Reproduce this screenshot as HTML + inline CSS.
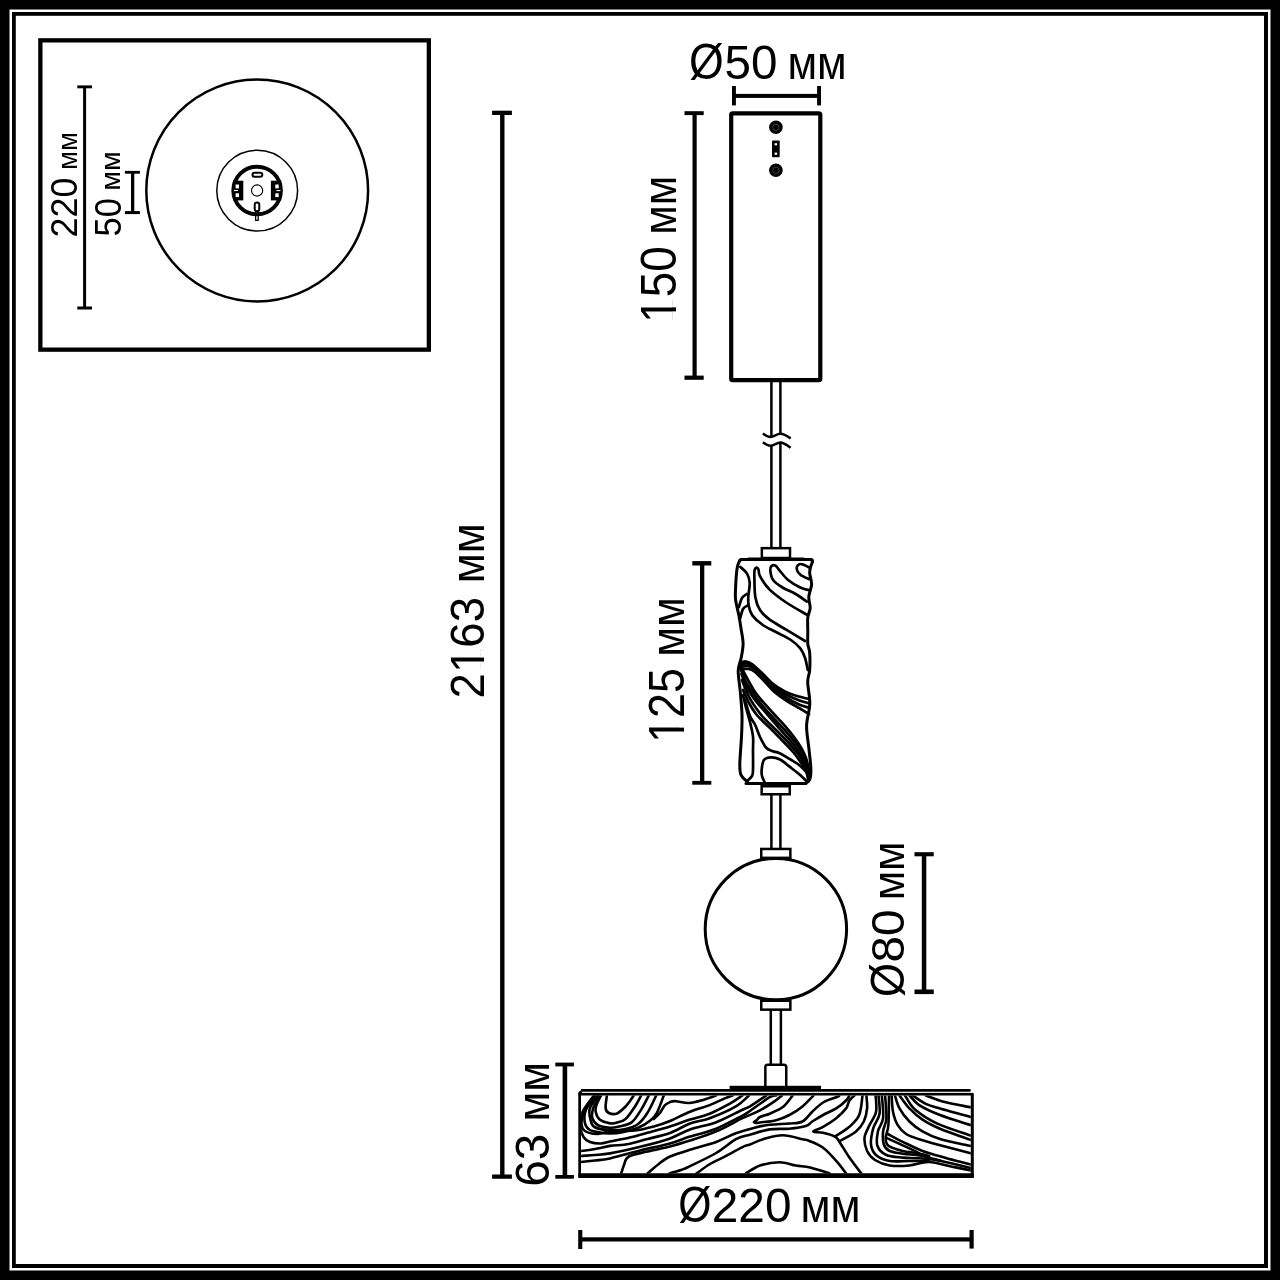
<!DOCTYPE html>
<html><head><meta charset="utf-8"><title>Drawing</title>
<style>
html,body{margin:0;padding:0;background:#fff;}
body{width:1280px;height:1280px;overflow:hidden;}
svg{display:block;}
text{font-family:"Liberation Sans",sans-serif;fill:#000;stroke:#fff;stroke-width:0.7px;paint-order:fill;}
</style></head><body>
<svg width="1280" height="1280" viewBox="0 0 1280 1280">
<rect x="0" y="0" width="1280" height="1280" fill="#fff"/>
<!-- frame -->
<rect x="0" y="0" width="1280" height="1280" fill="#000"/>
<rect x="9.5" y="9.5" width="1261" height="1261" fill="#fff"/>
<rect x="12" y="12" width="1256" height="1256" fill="#000"/>
<rect x="15.8" y="15.8" width="1248.2" height="1248.2" fill="#fff"/>
<!-- inset -->
<rect x="40.35" y="40.35" width="388.5" height="309.3" fill="none" stroke="#000" stroke-width="4.3"/>
<circle cx="257.2" cy="190.5" r="110.9" fill="none" stroke="#000" stroke-width="2.5"/>
<circle cx="257.2" cy="190.6" r="40.4" fill="none" stroke="#000" stroke-width="1.5"/>
<g id="socket">
<circle cx="257.1" cy="190.5" r="23.8" fill="none" stroke="#000" stroke-width="3.9"/>
<circle cx="257.1" cy="190.5" r="5.6" fill="none" stroke="#000" stroke-width="1.1"/>
<rect x="252.5" y="172.7" width="9.8" height="4.1" rx="2" fill="none" stroke="#000" stroke-width="2"/>
<rect x="254.7" y="202.5" width="4.6" height="8.8" rx="2.3" fill="none" stroke="#000" stroke-width="2"/>
<rect x="255.6" y="211.3" width="2.6" height="9" fill="none" stroke="#000" stroke-width="1.3"/>
<rect x="233" y="180.7" width="10.3" height="19.7" fill="#000"/>
<rect x="235.6" y="184.5" width="3.4" height="3.9" fill="#fff"/>
<rect x="235.6" y="193.3" width="3.4" height="3.8" fill="#fff"/>
<rect x="233.8" y="190.0" width="4" height="1.1" fill="#fff"/>
<rect x="270.9" y="180.7" width="10.3" height="19.7" fill="#000"/>
<rect x="275.3" y="184.5" width="3.4" height="3.9" fill="#fff"/>
<rect x="275.3" y="193.3" width="3.4" height="3.8" fill="#fff"/>
<rect x="276.4" y="190.0" width="4" height="1.1" fill="#fff"/>
</g>
<!-- inset dims -->
<g fill="#000">
<rect x="83.1" y="86.8" width="3" height="221.2"/>
<rect x="77.3" y="85.4" width="14.7" height="2.9"/>
<rect x="77.3" y="306.5" width="14.7" height="3"/>
<rect x="131" y="172.3" width="3.3" height="40.2"/>
<rect x="124.9" y="170.9" width="15" height="2.8"/>
<rect x="124.9" y="211.1" width="15" height="3"/>
</g>
<!-- main dims -->
<g fill="#000">
<!-- 2163 -->
<rect x="500.1" y="112.9" width="4.4" height="1063.7"/>
<rect x="492.1" y="110.7" width="19.8" height="4.3"/>
<rect x="492.1" y="1174.5" width="19.8" height="4.25"/>
<!-- 150 -->
<rect x="692.5" y="113.1" width="4.2" height="264.6"/>
<rect x="684.5" y="111.2" width="19.2" height="3.9"/>
<rect x="684.5" y="375.6" width="19.2" height="4.2"/>
<!-- 125 -->
<rect x="700.0" y="563.3" width="4.3" height="219.5"/>
<rect x="692.3" y="561.1" width="19.0" height="4.4"/>
<rect x="692.3" y="780.9" width="19.0" height="3.8"/>
<!-- 80 -->
<rect x="921.8" y="854.2" width="4.5" height="137.6"/>
<rect x="914.5" y="852.2" width="19.25" height="4.1"/>
<rect x="914.5" y="989.5" width="19.25" height="4.6"/>
<!-- 63 -->
<rect x="562.6" y="1064.5" width="4.6" height="112.4"/>
<rect x="555.3" y="1062.6" width="18.6" height="3.8"/>
<rect x="555.3" y="1175.0" width="18.6" height="3.7"/>
<!-- Ø50 -->
<rect x="734" y="93.9" width="85" height="4.0"/>
<rect x="732" y="86" width="3.9" height="19.4"/>
<rect x="817.1" y="86" width="3.9" height="19.4"/>
<!-- Ø220 -->
<rect x="580.25" y="1237.3" width="391.3" height="4.2"/>
<rect x="578.2" y="1230" width="4.1" height="19"/>
<rect x="969.5" y="1230" width="4.2" height="18.6"/>
</g>
<!-- canopy -->
<rect x="731.2" y="113.3" width="89.1" height="266.9" rx="1.5" fill="none" stroke="#000" stroke-width="4.2"/>
<circle cx="775.9" cy="127.3" r="6.8" fill="#000"/>
<circle cx="775.9" cy="127.3" r="3.2" fill="none" stroke="#555" stroke-width="0.7"/>
<rect x="772" y="140.6" width="7.7" height="16.7" rx="1" fill="#000"/>
<rect x="774.6" y="143.2" width="2.5" height="2.1" fill="#fff"/>
<rect x="774.6" y="152.6" width="2.5" height="2.2" fill="#fff"/>
<circle cx="775.9" cy="170.2" r="6.8" fill="#000"/>
<circle cx="775.9" cy="170.2" r="3.2" fill="none" stroke="#555" stroke-width="0.7"/>
<!-- rod -->
<g stroke="#000" stroke-width="2.5" fill="none">
<line x1="771.4" y1="382" x2="771.4" y2="436"/>
<line x1="780.4" y1="382" x2="780.4" y2="434"/>
<line x1="771.4" y1="445" x2="771.4" y2="547"/>
<line x1="780.4" y1="443" x2="780.4" y2="547"/>
<path d="M762.9,433.4 C766,435.6 768,437 770.5,436.9 C774,436.6 777,433.8 780.2,433.75 C784,433.7 787.5,436.2 790.6,438.4"/>
<path d="M762.9,442.3 C766,444.5 768,445.9 770.5,445.8 C774,445.5 777,442.5 780.2,442.4 C784,442.4 787.5,445.4 790.6,447.8"/>
<line x1="771.4" y1="794" x2="771.4" y2="848"/>
<line x1="780.4" y1="794" x2="780.4" y2="848"/>
<line x1="770.8" y1="1010" x2="770.8" y2="1064"/>
<line x1="780.9" y1="1010" x2="780.9" y2="1064"/>
<rect x="761.85" y="548.15" width="28.15" height="9.85"/>
<rect x="761.65" y="786.25" width="28.1" height="8.0"/>
<rect x="761.25" y="848.95" width="29.1" height="8.9"/>
<rect x="761.25" y="1000.75" width="29.1" height="8.9"/>
<path d="M765.35,1086.8 V1067 Q765.35,1064.65 767.7,1064.65 H783.9 Q786.25,1064.65 786.25,1067 V1086.8"/>
</g>
<circle cx="775.9" cy="929.1" r="70.7" fill="none" stroke="#000" stroke-width="3"/>
<rect x="748" y="557.5" width="55.75" height="3.1" fill="#000"/>
<rect x="729.6" y="1085.8" width="91.4" height="3.8" fill="#000"/>
<g fill="none" stroke="#000" stroke-linecap="round" stroke-linejoin="round">
<path d="M741.0,559.6 C740.7,559.8 740.1,559.4 739.4,561.0 C738.7,562.6 737.6,564.6 737.0,569.0 C736.4,573.4 735.8,582.4 735.6,587.5 C735.4,592.6 735.1,595.0 735.6,599.7 C736.1,604.4 738.0,610.6 738.9,615.6 C739.8,620.6 740.5,625.0 741.2,629.7 C742.0,634.4 743.1,639.1 743.1,643.8 C743.1,648.4 742.1,653.3 741.2,657.8 C740.4,662.3 738.3,665.2 738.2,671.0 C738.1,676.8 739.8,685.5 740.4,692.8 C741.0,700.1 741.8,707.4 742.0,714.7 C742.2,722.0 741.9,728.4 741.5,736.6 C741.1,744.8 739.9,757.6 739.8,764.0 C739.7,770.4 739.7,771.8 741.0,774.8 C742.3,777.8 746.4,780.8 747.5,782.0" stroke-width="3"/>
<path d="M811.0,559.6 C811.2,559.9 812.6,560.3 812.5,561.5 C812.4,562.7 811.1,564.9 810.6,566.9 C810.1,568.9 809.5,570.4 809.7,573.4 C809.9,576.4 811.8,580.8 811.6,584.7 C811.4,588.6 809.0,593.0 808.8,596.9 C808.5,600.8 810.4,604.7 810.2,608.1 C810.0,611.5 808.2,613.6 807.8,617.5 C807.4,621.4 807.8,627.2 807.8,631.6 C807.8,636.0 807.5,640.2 807.8,643.8 C808.1,647.3 809.4,648.7 809.7,653.1 C810.0,657.5 810.0,665.2 809.7,670.0 C809.4,674.8 807.7,676.3 807.7,681.9 C807.7,687.5 810.0,696.5 809.8,703.8 C809.6,711.0 806.8,718.3 806.6,725.6 C806.4,732.9 808.0,740.2 808.8,747.5 C809.5,754.8 810.8,764.0 810.9,769.4 C811.0,774.8 810.5,777.7 809.5,780.0 C808.5,782.3 805.8,782.8 805.0,783.3" stroke-width="3"/>
<path d="M739.5,561 Q740,559.4 742,559.4 L810.5,559.4 Q812.6,559.6 812.5,561.5" stroke-width="3"/>
<path d="M746,783.6 L806,783.6" stroke-width="3"/>
<path d="M740.3,566.9 C741.4,568.0 745.3,570.8 746.9,573.4 C748.5,576.0 749.5,578.9 749.7,582.8 C749.9,586.7 748.5,593.0 748.3,596.9 C748.1,600.8 748.0,603.1 748.8,606.2 C749.5,609.4 750.2,612.5 752.5,615.6 C754.8,618.7 758.7,622.2 762.8,625.0 C766.9,627.8 772.2,630.0 776.9,632.5 C781.6,635.0 787.0,637.4 790.9,640.0 C794.8,642.6 797.9,645.4 800.3,648.4 C802.6,651.4 803.8,654.2 805.0,657.8 C806.2,661.4 807.3,668.0 807.8,670.0" stroke-width="2.7"/>
<path d="M738.9,607.0 C739.4,605.5 740.7,600.2 742.0,598.0 C743.3,595.8 746.1,594.7 746.9,594.0" stroke-width="2.7"/>
<path d="M740.3,618.0 C740.8,616.5 741.8,611.1 743.0,609.0 C744.2,606.9 747.0,605.9 747.8,605.3" stroke-width="2.7"/>
<path d="M806.9,614.7 C803.5,612.7 792.5,606.7 786.2,602.5 C780.0,598.3 773.8,593.8 769.4,589.4 C765.0,585.0 761.8,579.6 760.0,576.2 C758.2,572.9 759.1,570.9 758.5,569.5 C757.9,568.1 757.1,567.5 756.5,567.6 C755.9,567.7 755.0,568.3 754.6,570.0 C754.2,571.7 754.3,573.5 754.4,578.0 C754.5,582.5 754.4,591.6 755.3,596.9 C756.2,602.2 757.6,606.2 760.0,610.0 C762.4,613.8 765.0,616.1 769.4,619.4 C773.8,622.7 780.3,626.1 786.2,629.7 C792.2,633.3 801.9,639.1 805.0,641.0" stroke-width="2.7"/>
<path d="M809.7,590.3 C808.1,589.8 803.9,589.2 800.3,587.5 C796.7,585.8 791.5,582.8 788.1,580.0 C784.7,577.2 781.8,573.0 779.7,570.6 C777.6,568.2 776.9,566.4 775.5,565.6 C774.1,564.8 772.4,565.2 771.5,566.0 C770.6,566.8 770.0,568.3 770.3,570.6 C770.6,572.9 771.1,577.2 773.1,580.0 C775.1,582.8 778.8,585.2 782.5,587.5 C786.2,589.8 791.5,591.6 795.6,594.0 C799.7,596.4 805.0,600.3 806.9,601.6" stroke-width="2.7"/>
<path d="M809.7,567.8 C808.6,567.2 804.7,565.1 803.0,564.5 C801.3,563.9 800.4,563.8 799.4,564.2 C798.4,564.6 797.1,565.8 796.8,567.0 C796.5,568.2 796.9,570.1 797.6,571.5 C798.3,572.9 799.4,574.0 801.2,575.3 C803.1,576.5 807.5,578.4 808.8,579.0" stroke-width="2.7"/>
<path d="M741.0,662.5 C741.8,662.3 744.2,661.2 746.0,661.5 C747.8,661.8 749.3,662.1 752.0,664.0 C754.7,665.9 758.7,669.8 762.0,673.0 C765.3,676.2 768.3,680.0 772.0,683.0 C775.7,686.0 779.8,688.8 784.0,691.0 C788.2,693.2 792.8,694.7 797.0,696.0 C801.2,697.3 807.0,698.5 809.0,699.0" stroke-width="2.7"/>
<path d="M741.0,664.5 C742.0,664.3 745.0,663.2 747.0,663.5 C749.0,663.8 750.3,664.4 753.0,666.5 C755.7,668.6 759.7,672.8 763.0,676.0 C766.3,679.2 769.3,683.0 773.0,686.0 C776.7,689.0 780.8,691.7 785.0,694.0 C789.2,696.3 793.9,698.4 798.0,700.0 C802.1,701.6 807.6,702.9 809.5,703.5" stroke-width="2.7"/>
<path d="M741.0,666.5 C742.2,666.4 745.8,665.6 748.0,666.0 C750.2,666.4 751.3,666.8 754.0,669.0 C756.7,671.2 760.7,675.7 764.0,679.0 C767.3,682.3 770.3,685.9 774.0,689.0 C777.7,692.1 782.0,695.0 786.0,697.5 C790.0,700.0 794.1,702.2 798.0,704.0 C801.9,705.8 807.6,707.3 809.5,708.0" stroke-width="2.7"/>
<path d="M741.5,669.0 C742.8,669.0 746.8,668.5 749.0,669.0 C751.2,669.5 752.3,669.8 755.0,672.0 C757.7,674.2 761.7,678.6 765.0,682.0 C768.3,685.4 771.3,689.3 775.0,692.5 C778.7,695.7 783.0,698.4 787.0,701.0 C791.0,703.6 795.3,705.8 799.0,708.0 C802.7,710.2 807.3,713.0 809.0,714.0" stroke-width="2.7"/>
<path d="M741.0,667.0 C742.2,669.2 745.7,675.8 748.0,680.0 C750.3,684.2 752.5,688.4 755.0,692.0 C757.5,695.6 759.8,698.1 762.8,701.6 C765.8,705.1 769.4,709.0 773.0,713.0 C776.6,717.0 781.2,721.6 784.7,725.6 C788.2,729.6 791.3,733.4 794.0,737.0 C796.7,740.6 799.0,744.0 801.0,747.5 C803.0,751.0 804.7,754.4 806.0,758.0 C807.3,761.6 808.3,767.2 808.8,769.0" stroke-width="2.7"/>
<path d="M741.0,670.0 C742.0,672.3 744.7,679.7 747.0,684.0 C749.3,688.3 752.4,692.3 755.0,696.0 C757.6,699.7 759.8,702.4 762.8,706.0 C765.8,709.6 769.4,713.5 773.0,717.5 C776.6,721.5 781.2,726.1 784.7,730.0 C788.2,733.9 791.3,737.5 794.0,741.0 C796.7,744.5 799.0,747.5 801.0,750.8 C803.0,754.1 804.7,757.5 806.0,761.0 C807.3,764.5 808.3,770.2 808.8,772.0" stroke-width="2.7"/>
<path d="M741.5,674.0 C742.4,676.3 744.8,683.7 747.0,688.0 C749.2,692.3 752.4,696.5 755.0,700.0 C757.6,703.5 759.8,705.7 762.8,709.2 C765.8,712.7 769.4,716.8 773.0,721.0 C776.6,725.2 781.2,730.4 784.7,734.4 C788.2,738.4 791.3,741.5 794.0,745.0 C796.7,748.5 799.0,751.9 801.0,755.2 C803.0,758.5 804.7,761.7 806.0,765.0 C807.3,768.3 808.3,773.3 808.8,775.0" stroke-width="2.7"/>
<path d="M742.0,680.0 C743.0,682.5 745.7,690.3 748.0,695.0 C750.3,699.7 753.5,704.4 756.0,708.0 C758.5,711.6 760.0,713.7 762.8,716.9 C765.6,720.1 769.4,723.4 773.0,727.0 C776.6,730.6 781.2,735.1 784.7,738.8 C788.2,742.4 791.3,745.7 794.0,749.0 C796.7,752.3 799.0,755.2 801.0,758.4 C803.0,761.6 804.7,764.7 806.0,768.0 C807.3,771.3 808.3,776.3 808.8,778.0" stroke-width="2.7"/>
<path d="M743.0,690.0 C744.0,692.2 746.8,699.0 749.0,703.0 C751.2,707.0 753.7,711.0 756.0,714.0 C758.3,717.0 760.0,718.4 762.8,721.2 C765.6,724.1 769.4,727.4 773.0,731.0 C776.6,734.6 781.2,739.3 784.7,743.0 C788.2,746.7 791.3,749.7 794.0,753.0 C796.7,756.3 799.0,759.8 801.0,762.8 C803.0,765.8 804.8,768.0 806.0,771.0 C807.2,774.0 808.1,779.3 808.5,781.0" stroke-width="2.7"/>
<path d="M746.5,781.5 C747.4,780.6 750.9,778.0 752.0,776.0 C753.1,774.0 752.8,773.7 753.0,769.4 C753.2,765.1 753.0,755.5 753.0,750.0 C753.0,744.5 753.5,741.3 753.0,736.6 C752.5,731.9 751.1,726.6 750.0,722.0 C748.9,717.4 747.6,713.7 746.4,709.2 C745.2,704.7 743.6,697.4 743.0,695.0" stroke-width="2.7"/>
<path d="M745.0,700.0 C745.8,702.7 748.3,711.8 750.0,716.0 C751.7,720.2 753.5,721.5 755.2,725.0 C756.9,728.5 758.2,733.2 760.0,737.0 C761.8,740.8 764.0,745.2 766.0,747.5 C768.0,749.8 769.8,750.1 772.0,751.0 C774.2,751.9 776.5,751.8 779.2,753.0 C781.9,754.2 784.9,756.2 788.0,758.0 C791.1,759.8 795.1,762.1 797.8,764.0 C800.5,765.9 802.2,767.7 804.0,769.5 C805.8,771.3 808.0,774.1 808.8,775.0" stroke-width="2.7"/>
<path d="M765.0,783.0 C764.5,781.8 762.5,778.3 762.0,776.0 C761.5,773.7 761.4,772.1 761.7,769.4 C762.0,766.7 762.4,762.0 763.9,760.0 C765.4,758.0 768.3,757.4 771.0,757.3 C773.7,757.2 776.8,757.9 780.0,759.5 C783.2,761.1 787.0,764.8 790.2,767.2 C793.4,769.6 796.3,771.7 799.0,774.0 C801.7,776.3 805.3,779.8 806.6,781.0" stroke-width="2.7"/>
</g>
<clipPath id="dc"><rect x="581.1" y="1095.4" width="389.7" height="78.1"/></clipPath>
<g fill="none" stroke="#000" stroke-width="2.6" stroke-linecap="round" clip-path="url(#dc)">
<path d="M606.9,1095.4 C606.7,1097.5 605.3,1105.1 605.6,1108.0 C605.9,1110.9 606.9,1112.1 608.8,1113.0 C610.7,1113.9 614.2,1114.6 617.0,1113.5 C619.8,1112.4 623.4,1108.6 625.6,1106.5 C627.8,1104.4 628.6,1102.8 630.0,1101.0 C631.4,1099.2 633.1,1096.3 633.8,1095.4"/>
<path d="M601.0,1095.4 C600.2,1097.0 597.3,1102.3 596.4,1105.0 C595.5,1107.7 595.2,1109.3 595.7,1111.7 C596.2,1114.1 597.3,1117.6 599.7,1119.6 C602.1,1121.5 607.2,1122.9 610.0,1123.4 C612.8,1123.9 613.6,1123.5 616.2,1122.8 C618.9,1122.0 622.5,1121.7 625.6,1119.0 C628.7,1116.3 632.4,1110.4 635.0,1106.5 C637.6,1102.6 640.2,1097.2 641.2,1095.4"/>
<path d="M599.0,1095.4 C598.0,1097.6 594.2,1104.6 593.1,1108.4 C592.0,1112.2 591.6,1115.4 592.4,1118.2 C593.2,1121.0 594.8,1123.4 597.7,1125.0 C600.6,1126.6 606.4,1127.5 610.0,1127.8 C613.6,1128.0 615.8,1127.4 619.4,1126.5 C623.0,1125.6 628.3,1124.9 631.9,1122.1 C635.5,1119.3 638.4,1114.0 641.2,1109.6 C644.1,1105.1 647.5,1097.8 648.8,1095.4"/>
<path d="M597.7,1095.4 C596.4,1097.6 591.0,1104.4 589.8,1108.4 C588.6,1112.4 589.7,1116.5 590.5,1119.6 C591.3,1122.7 591.1,1125.2 594.4,1127.0 C597.6,1128.8 604.8,1129.9 610.0,1130.2 C615.2,1130.6 620.9,1130.0 625.6,1129.0 C630.3,1128.0 634.5,1126.7 638.1,1124.0 C641.8,1121.3 644.5,1117.5 647.5,1112.8 C650.5,1108.0 654.8,1098.3 656.2,1095.4"/>
<path d="M596.4,1095.4 C594.8,1097.6 588.5,1104.1 586.5,1108.4 C584.5,1112.8 584.1,1118.0 584.6,1121.5 C585.1,1125.0 586.6,1127.7 589.2,1129.5 C591.8,1131.3 596.5,1131.8 600.0,1132.5 C603.5,1133.2 606.2,1133.5 610.0,1133.4 C613.8,1133.3 617.8,1133.0 622.5,1132.1 C627.2,1131.2 633.4,1129.7 638.1,1127.8 C642.8,1125.8 647.5,1122.8 650.6,1120.2 C653.7,1117.8 654.7,1116.9 656.9,1112.8 C659.1,1108.6 662.6,1098.3 663.8,1095.4"/>
<path d="M653.8,1119.0 C654.8,1118.0 658.1,1115.0 660.0,1112.8 C661.9,1110.5 663.3,1107.0 665.0,1105.2 C666.7,1103.5 668.2,1102.8 670.0,1102.1 C671.8,1101.4 672.8,1101.0 676.0,1101.2 C679.2,1101.4 684.5,1103.2 689.0,1103.0 C693.5,1102.8 698.6,1101.2 703.1,1099.9 C707.6,1098.6 714.0,1096.2 716.2,1095.4"/>
<path d="M594.4,1096.0 C592.7,1098.7 586.1,1107.3 584.0,1112.0 C581.9,1116.7 581.3,1120.8 581.5,1124.0 C581.7,1127.2 582.4,1129.3 585.0,1131.0 C587.6,1132.7 592.8,1133.9 597.0,1134.0 C601.2,1134.1 603.7,1132.1 610.0,1131.5 C616.3,1130.9 627.7,1131.3 635.0,1130.5 C642.3,1129.7 647.9,1128.1 653.8,1126.5 C659.6,1124.9 664.0,1123.5 670.0,1121.0 C676.0,1118.5 683.4,1114.4 690.0,1111.7 C696.6,1109.0 703.7,1107.4 709.7,1105.1 C715.7,1102.8 722.3,1099.5 726.1,1097.9 C729.9,1096.3 731.6,1095.8 732.7,1095.4"/>
<path d="M593.5,1096.0 C591.7,1098.7 584.7,1107.0 582.5,1112.0 C580.3,1117.0 580.3,1121.8 580.5,1126.0 C580.7,1130.2 581.9,1134.3 583.5,1137.0 C585.1,1139.7 587.1,1140.9 590.0,1142.0 C592.9,1143.1 597.7,1143.6 601.0,1143.5 C604.3,1143.4 605.4,1142.5 610.0,1141.5 C614.6,1140.5 622.5,1139.2 628.8,1137.8 C635.0,1136.3 640.6,1134.6 647.5,1132.8 C654.4,1130.9 662.9,1128.7 670.0,1126.5 C677.1,1124.3 683.4,1121.7 690.0,1119.6 C696.6,1117.5 703.1,1116.3 709.7,1113.7 C716.3,1111.1 723.9,1106.8 729.4,1103.8 C734.9,1100.8 740.3,1096.8 742.5,1095.4"/>
<path d="M581.0,1151.0 C583.3,1150.7 590.2,1149.8 595.0,1149.0 C599.8,1148.2 604.4,1146.7 610.0,1145.9 C615.6,1145.1 622.5,1145.2 628.8,1144.0 C635.0,1142.8 640.6,1140.8 647.5,1139.0 C654.4,1137.2 662.9,1135.6 670.0,1133.0 C677.1,1130.4 683.4,1126.0 690.0,1123.5 C696.6,1121.0 702.1,1121.0 709.7,1118.2 C717.4,1115.4 729.4,1110.2 735.9,1106.4 C742.4,1102.6 746.8,1097.2 749.0,1095.4"/>
<path d="M581.0,1156.0 C583.3,1155.8 590.2,1155.4 595.0,1155.0 C599.8,1154.6 602.3,1154.8 610.0,1153.4 C617.7,1152.0 631.2,1149.0 641.2,1146.5 C651.2,1144.0 661.9,1141.2 670.0,1138.4 C678.1,1135.6 682.3,1132.1 690.0,1129.4 C697.7,1126.7 707.5,1125.5 716.2,1122.2 C725.0,1118.9 736.9,1112.3 742.5,1109.7 C748.1,1107.1 746.0,1108.8 750.0,1106.4 C754.0,1104.0 763.7,1097.2 766.4,1095.4"/>
<path d="M581.0,1162.0 C583.3,1161.8 590.2,1161.1 595.0,1160.5 C599.8,1159.9 602.3,1160.1 610.0,1158.4 C617.7,1156.7 631.2,1152.8 641.2,1150.2 C651.2,1147.8 661.9,1145.7 670.0,1143.4 C678.1,1141.1 682.3,1139.0 690.0,1136.6 C697.7,1134.1 707.5,1132.2 716.2,1128.7 C725.0,1125.2 736.9,1118.5 742.5,1115.6 C748.1,1112.6 745.5,1114.1 750.0,1111.0 C754.5,1107.9 765.3,1099.8 769.7,1097.2 C774.1,1094.6 775.1,1095.7 776.2,1095.4"/>
<path d="M621.2,1173.4 C621.7,1172.0 622.8,1167.8 624.0,1165.0 C625.2,1162.2 624.8,1158.8 628.8,1156.5 C632.7,1154.2 640.6,1153.2 647.5,1151.5 C654.4,1149.8 662.9,1148.3 670.0,1146.5 C677.1,1144.7 682.3,1143.1 690.0,1140.6 C697.7,1138.1 707.5,1135.1 716.2,1131.4 C725.0,1127.7 735.2,1121.7 742.5,1118.2 C749.8,1114.7 754.6,1113.3 760.0,1110.4 C765.4,1107.5 771.3,1103.5 775.0,1101.0 C778.7,1098.5 780.8,1096.3 782.0,1095.4"/>
<path d="M647.5,1173.4 C649.6,1171.7 656.2,1165.8 660.0,1163.0 C663.8,1160.2 665.0,1158.7 670.0,1156.5 C675.0,1154.3 682.3,1152.1 690.0,1149.7 C697.7,1147.3 708.6,1144.6 716.2,1141.9 C723.9,1139.2 729.3,1135.7 735.9,1133.3 C742.5,1130.9 750.0,1128.8 755.6,1127.4 C761.2,1126.0 764.1,1125.5 769.7,1124.8 C775.3,1124.1 783.9,1124.0 789.4,1123.5 C794.9,1123.0 798.7,1123.5 802.5,1121.5 C806.3,1119.5 808.9,1114.9 812.3,1111.7 C815.7,1108.5 819.1,1104.9 823.1,1102.5 C827.1,1100.1 833.5,1098.4 836.2,1097.2 C839.0,1096.1 839.0,1095.7 839.5,1095.4"/>
<path d="M669.4,1173.4 C671.6,1172.7 679.1,1170.6 682.5,1169.4 C685.9,1168.2 684.4,1168.8 690.0,1166.1 C695.6,1163.4 708.6,1157.5 716.2,1153.0 C723.9,1148.5 730.3,1142.3 735.9,1139.2 C741.5,1136.1 744.4,1136.3 750.0,1134.7 C755.6,1133.0 763.1,1130.4 769.7,1129.4 C776.3,1128.4 783.4,1129.2 789.4,1128.7 C795.4,1128.2 802.0,1127.3 805.8,1126.1 C809.6,1124.9 809.4,1123.3 812.3,1121.5 C815.2,1119.7 819.1,1117.2 823.1,1115.0 C827.1,1112.8 832.4,1110.8 836.2,1108.4 C840.1,1106.0 843.9,1102.7 846.1,1100.5 C848.3,1098.3 848.9,1096.2 849.4,1095.4"/>
<path d="M792.6,1095.4 C791.0,1097.4 786.6,1104.1 782.8,1107.1 C779.0,1110.1 773.5,1112.0 769.7,1113.7 C765.9,1115.3 762.2,1115.9 760.0,1117.0 C757.8,1118.1 757.6,1119.4 756.6,1120.2 C755.6,1121.0 754.0,1121.5 753.9,1122.0 C753.8,1122.5 755.0,1122.9 756.0,1123.0 C757.0,1123.1 756.4,1123.0 759.8,1122.5 C763.2,1122.0 771.3,1121.5 776.2,1120.2 C781.1,1119.0 785.0,1117.3 789.4,1115.0 C793.8,1112.7 798.5,1109.7 802.5,1106.4 C806.5,1103.1 811.8,1097.2 813.6,1095.4"/>
<path d="M696.6,1173.4 C698.8,1171.8 705.6,1166.6 710.0,1164.0 C714.4,1161.4 717.4,1160.4 722.8,1157.6 C728.2,1154.8 738.0,1149.3 742.5,1147.1 C747.0,1144.9 746.6,1145.8 750.0,1144.5 C753.4,1143.2 757.6,1140.7 763.1,1139.2 C768.6,1137.7 776.2,1135.3 782.8,1135.3 C789.4,1135.3 798.0,1138.2 802.5,1139.2 C807.0,1140.2 806.6,1139.8 810.0,1141.2 C813.4,1142.6 818.7,1144.5 823.1,1147.8 C827.5,1151.1 832.4,1156.6 836.2,1160.9 C840.1,1165.2 844.5,1171.3 846.1,1173.4"/>
<path d="M745.8,1173.4 C748.2,1172.1 754.4,1167.4 760.0,1165.5 C765.6,1163.6 773.5,1162.2 779.5,1162.2 C785.5,1162.2 790.8,1164.6 795.9,1165.5 C801.0,1166.4 804.4,1166.2 810.0,1167.5 C815.6,1168.8 826.4,1172.4 829.7,1173.4"/>
<path d="M854.6,1095.4 C853.7,1096.2 850.8,1098.3 849.4,1100.5 C848.0,1102.7 848.3,1105.5 846.1,1108.4 C843.9,1111.4 840.1,1115.1 836.2,1118.2 C832.4,1121.3 826.5,1124.8 823.1,1126.8 C819.7,1128.8 817.6,1129.2 816.0,1130.0 C814.4,1130.8 813.3,1131.0 813.3,1131.4 C813.3,1131.8 814.4,1132.0 816.0,1132.2 C817.6,1132.4 819.9,1132.0 823.1,1132.7 C826.3,1133.4 832.3,1135.1 835.0,1136.6 C837.7,1138.1 837.1,1138.4 839.5,1141.9 C841.9,1145.4 845.8,1152.3 849.4,1157.6 C853.0,1162.8 859.2,1170.8 861.2,1173.4"/>
<path d="M835.0,1136.6 C837.4,1135.0 845.4,1130.4 849.4,1126.8 C853.4,1123.2 857.0,1120.2 859.2,1115.0 C861.4,1109.8 862.0,1098.7 862.5,1095.4"/>
<path d="M839.5,1141.2 C842.2,1139.6 852.0,1134.7 856.0,1131.4 C860.0,1128.1 861.9,1125.3 863.8,1121.5 C865.6,1117.7 866.7,1112.8 867.1,1108.4 C867.5,1104.1 866.5,1097.6 866.4,1095.4"/>
<path d="M875.6,1095.4 C875.7,1098.2 877.1,1106.9 876.0,1112.0 C874.9,1117.1 870.9,1121.8 869.0,1126.1 C867.1,1130.4 864.8,1133.8 864.5,1137.9 C864.2,1142.1 865.4,1147.3 867.1,1151.0 C868.9,1154.7 871.2,1157.6 875.0,1160.0 C878.8,1162.4 884.0,1164.6 889.7,1165.5 C895.4,1166.4 902.9,1166.1 909.4,1165.5 C915.9,1164.9 921.9,1161.8 929.0,1162.0 C936.1,1162.2 945.1,1165.3 952.1,1166.7 C959.1,1168.1 967.6,1169.8 970.7,1170.4"/>
<path d="M878.5,1095.4 C878.7,1098.5 880.4,1108.5 879.5,1114.0 C878.6,1119.5 874.7,1123.0 873.3,1128.1 C871.9,1133.2 870.5,1140.0 871.0,1144.5 C871.5,1149.0 872.9,1152.2 876.0,1155.0 C879.1,1157.8 884.1,1160.0 889.7,1161.0 C895.3,1162.0 902.9,1161.0 909.4,1161.0 C915.9,1161.0 925.7,1160.8 929.0,1160.7"/>
<path d="M881.8,1095.4 C882.0,1099.2 883.8,1112.2 883.1,1118.2 C882.5,1124.2 878.8,1126.8 877.9,1131.4 C877.0,1136.0 876.1,1142.1 877.5,1146.0 C878.9,1149.9 882.2,1153.1 886.4,1155.0 C890.6,1156.9 897.3,1157.0 902.8,1157.6 C908.3,1158.1 913.0,1157.8 919.2,1158.3 C925.4,1158.8 936.5,1160.1 940.0,1160.5"/>
<path d="M885.1,1095.4 C885.3,1099.2 886.7,1112.2 886.4,1118.2 C886.1,1124.2 883.5,1127.0 883.1,1131.4 C882.7,1135.8 882.7,1141.2 883.8,1144.5 C884.9,1147.8 886.5,1149.5 889.7,1151.0 C892.9,1152.5 898.4,1153.0 902.8,1153.7 C907.2,1154.4 911.5,1154.5 915.9,1155.0 C920.3,1155.5 926.8,1156.7 929.0,1157.0"/>
<path d="M889.0,1095.4 C888.9,1100.3 888.9,1117.7 888.4,1124.8 C887.9,1131.9 885.7,1134.4 885.7,1137.9 C885.7,1141.4 885.5,1143.6 888.4,1145.8 C891.2,1148.0 898.2,1149.8 902.8,1151.0 C907.4,1152.2 911.5,1152.2 915.9,1153.0 C920.3,1153.8 926.8,1155.5 929.0,1156.0"/>
<path d="M887.7,1134.0 C890.2,1135.3 897.0,1139.1 902.8,1141.9 C908.6,1144.7 916.3,1148.6 922.5,1151.0 C928.7,1153.4 934.6,1154.7 940.0,1156.3 C945.4,1157.9 949.9,1159.2 955.0,1160.5 C960.1,1161.8 968.1,1163.8 970.7,1164.4"/>
<path d="M886.4,1137.9 C890.2,1139.7 902.3,1145.1 909.4,1148.4 C916.5,1151.7 922.2,1155.2 929.0,1157.6 C935.8,1160.0 943.0,1161.3 950.0,1163.0 C957.0,1164.7 967.2,1167.2 970.7,1168.0"/>
<path d="M891.6,1095.4 C891.9,1098.1 892.0,1106.8 893.0,1111.7 C894.0,1116.6 895.4,1121.1 897.6,1124.8 C899.8,1128.5 902.5,1131.6 906.1,1134.0 C909.7,1136.4 914.0,1137.5 919.2,1139.2 C924.4,1140.9 928.7,1142.1 937.3,1144.4 C945.9,1146.8 965.1,1151.8 970.7,1153.3"/>
<path d="M894.9,1095.4 C895.7,1097.6 897.1,1104.1 899.5,1108.4 C901.9,1112.8 905.6,1117.7 909.4,1121.5 C913.2,1125.3 917.4,1128.5 922.5,1131.4 C927.6,1134.3 932.0,1136.6 940.0,1139.0 C948.0,1141.4 965.6,1144.8 970.7,1146.0"/>
<path d="M899.5,1095.4 C901.1,1097.6 905.6,1104.4 909.4,1108.4 C913.2,1112.4 917.4,1116.2 922.5,1119.6 C927.6,1123.0 932.0,1125.3 940.0,1128.7 C948.0,1132.1 965.6,1138.0 970.7,1139.9"/>
<path d="M905.0,1095.4 C906.7,1097.8 909.6,1104.8 915.0,1109.5 C920.4,1114.2 928.0,1119.3 937.3,1123.6 C946.6,1127.9 965.1,1133.5 970.7,1135.5"/>
<path d="M909.4,1095.4 C911.0,1097.0 914.1,1101.8 919.2,1105.1 C924.3,1108.4 931.4,1111.7 940.0,1115.0 C948.6,1118.3 965.6,1123.4 970.7,1125.1"/>
<path d="M912.6,1095.4 C914.8,1096.8 921.2,1101.6 925.8,1103.8 C930.4,1106.0 932.5,1106.2 940.0,1108.4 C947.5,1110.6 965.6,1115.5 970.7,1116.9"/>
<path d="M925.8,1095.4 C928.9,1096.5 937.2,1100.1 944.7,1102.1 C952.2,1104.1 966.4,1106.4 970.7,1107.3"/>
</g>
<g fill="#000">
<rect x="580.8" y="1088.9" width="390" height="2.9" rx="1.2"/>
<rect x="579" y="1092.9" width="394" height="2.6"/>
<path d="M578.3,1095 V1093.5 Q578.3,1091.2 581.5,1090.5 L582,1093 Z"/>
<rect x="578.3" y="1092.9" width="2.7" height="85" rx="1"/>
<rect x="970.8" y="1092.9" width="3" height="85" rx="1"/>
<rect x="578.4" y="1173.3" width="395.4" height="4.6" rx="1"/>
</g>
<g style="will-change:transform">
<g transform="translate(688.94,78.60) scale(0.9052,1)"><text font-size="49.39" style="stroke-width:0.0px">Ø</text></g>
<g transform="translate(724.49,78.60) scale(0.9721,1)"><text font-size="49.00" style="stroke-width:0.0px">50</text></g>
<g transform="translate(787.42,78.60) scale(0.9296,1)"><text font-size="46.40" style="stroke-width:0.0px">мм</text></g>
<g transform="translate(678.20,1222.00) scale(0.8559,1)"><text font-size="49.93" style="stroke-width:0.0px">Ø</text></g>
<g transform="translate(711.71,1222.00) scale(0.9874,1)"><text font-size="48.42" style="stroke-width:0.0px">220</text></g>
<g transform="translate(800.58,1222.00) scale(0.9614,1)"><text font-size="45.45" style="stroke-width:0.0px">мм</text></g>
<g transform="translate(676.30,322.89) rotate(-90) scale(0.9316,1)"><text font-size="49.28" style="stroke-width:0.0px">150</text><rect x="2.96" y="-4.14" width="9.41" height="4.93" fill="#fff"/><rect x="16.71" y="-4.14" width="8.92" height="4.93" fill="#fff"/></g>
<g transform="translate(676.30,234.86) rotate(-90) scale(0.9290,1)"><text font-size="46.21" style="stroke-width:0.0px">мм</text></g>
<g transform="translate(484.20,698.38) rotate(-90) scale(0.9424,1)"><text font-size="48.42" style="stroke-width:0.0px">2163</text><rect x="29.84" y="-4.07" width="9.25" height="4.84" fill="#fff"/><rect x="43.35" y="-4.07" width="8.76" height="4.84" fill="#fff"/></g>
<g transform="translate(484.20,583.32) rotate(-90) scale(0.9552,1)"><text font-size="45.83" style="stroke-width:0.0px">мм</text></g>
<g transform="translate(683.75,742.80) rotate(-90) scale(0.9098,1)"><text font-size="49.21" style="stroke-width:0.0px">125</text><rect x="2.95" y="-4.13" width="9.40" height="4.92" fill="#fff"/><rect x="16.68" y="-4.13" width="8.91" height="4.92" fill="#fff"/></g>
<g transform="translate(683.75,656.75) rotate(-90) scale(0.9414,1)"><text font-size="46.12" style="stroke-width:0.0px">мм</text></g>
<g transform="translate(903.80,997.03) rotate(-90) scale(0.9000,1)"><text font-size="48.58" style="stroke-width:0.0px">Ø</text></g>
<g transform="translate(903.80,962.55) rotate(-90) scale(1.0238,1)"><text font-size="46.56" style="stroke-width:0.0px">80</text></g>
<g transform="translate(903.80,900.36) rotate(-90) scale(0.9762,1)"><text font-size="43.94" style="stroke-width:0.0px">мм</text></g>
<g transform="translate(548.80,1186.84) rotate(-90) scale(0.9869,1)"><text font-size="48.42" style="stroke-width:0.0px">63</text></g>
<g transform="translate(548.80,1121.38) rotate(-90) scale(0.9610,1)"><text font-size="44.89" style="stroke-width:0.0px">мм</text></g>
<g transform="translate(76.60,237.39) rotate(-90) scale(0.9889,1)"><text font-size="36.25" style="stroke-width:0.0px">220</text></g>
<g transform="translate(76.90,170.00) rotate(-90) scale(0.9894,1)"><text font-size="27.84" style="stroke-width:0.0px">мм</text></g>
<g transform="translate(120.50,236.38) rotate(-90) scale(0.9546,1)"><text font-size="36.10" style="stroke-width:0.0px">50</text></g>
<g transform="translate(120.30,190.72) rotate(-90) scale(1.0470,1)"><text font-size="27.27" style="stroke-width:0.0px">мм</text></g>
</g>
</svg>
</body></html>
